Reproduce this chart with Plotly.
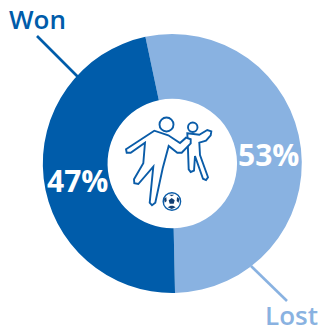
import plotly.graph_objects as go

labels = ["Lost", "Won"]
values = [53, 47]
colors = ["#89B2E1", "#005CAA"]
DARK = "#0A5CA8"
FONT = "Open Sans, sans-serif"

W, H = 321, 332
CX, CY, R = 172.3, 163.5, 129.5


def zp(points):
    """Icon outline: zoom-crop coordinates to an SVG path in chart pixels."""
    pts = [(100 + x / 3, 100 + y / 3) for x, y in points]
    return "M" + " L".join(f"{x:.1f},{y:.1f}" for x, y in pts) + " Z"


big_player = [(78, 148), (163, 92), (205, 106), (240, 129), (258, 113), (272, 118), (272, 130),
              (245, 158), (232, 158), (206, 138), (188, 205), (166, 308), (156, 316), (149, 308),
              (160, 200), (115, 252), (103, 250), (102, 238), (130, 190), (135, 128), (92, 158), (80, 158)]
small_player = [(262, 100), (298, 104), (322, 90), (334, 94), (332, 106), (318, 122), (298, 128),
                (300, 165), (324, 232), (318, 240), (309, 236), (285, 168), (282, 212), (272, 216),
                (266, 208), (264, 150)]
pentagon = [(215, 294), (224, 301), (221, 311), (209, 311), (206, 301)]
ball_patches = [
    [(207, 284), (223, 284), (215, 289)],
    [(192, 296), (199, 291), (200, 303), (194, 308)],
    [(238, 296), (231, 291), (230, 303), (236, 308)],
    [(203, 322), (212, 317), (219, 317), (227, 322), (215, 327)],
]

fig = go.Figure()
fig.add_trace(go.Pie(
    labels=labels, values=values, hole=0.5, sort=False, direction="clockwise",
    rotation=-12, marker=dict(colors=colors, line=dict(width=0)), textinfo="none",
    hoverinfo="skip", showlegend=False,
    domain=dict(x=[(CX - R) / W, (CX + R) / W], y=[1 - (CY + R) / H, 1 - (CY - R) / H]),
))

shapes = [
    dict(type="line", x0=37, y0=36, x1=78, y1=77, line=dict(color=colors[1], width=2.6)),
    dict(type="line", x0=251, y0=266, x1=287, y1=301, line=dict(color=colors[0], width=2.6)),
    dict(type="circle", x0=159.5, y0=117.5, x1=173.5, y1=131.5, line=dict(color=DARK, width=1.9), fillcolor="white"),
    dict(type="circle", x0=188, y0=122.5, x1=197.5, y1=132, line=dict(color=DARK, width=1.9), fillcolor="white"),
    dict(type="path", path=zp(small_player), line=dict(color=DARK, width=1.9), fillcolor="white"),
    dict(type="path", path=zp(big_player), line=dict(color=DARK, width=1.9), fillcolor="white"),
    dict(type="circle", x0=163.2, y0=192.8, x1=180.6, y1=210.2, line=dict(color=DARK, width=1.4), fillcolor="white"),
    dict(type="path", path=zp(pentagon), line=dict(width=0), fillcolor="#123F73"),
]
for patch in ball_patches:
    shapes.append(dict(type="path", path=zp(patch), line=dict(width=0), fillcolor="#123F73"))
for s in shapes:
    s.update(xref="x", yref="y", layer="above")

annotations = [
    dict(x=37, y=19, text="Won", font=dict(size=26, color=colors[1], family=FONT, weight=600)),
    dict(x=291, y=314.5, text="Lost", font=dict(size=26, color=colors[0], family=FONT, weight=600)),
    dict(x=77, y=180.5, text=f"{values[1]}%", font=dict(size=30, color="white", family=FONT, weight=700)),
    dict(x=268, y=154, text=f"{values[0]}%", font=dict(size=30, color="white", family=FONT, weight=700)),
]
for a in annotations:
    a.update(xref="x", yref="y", showarrow=False, xanchor="center", yanchor="middle")

fig.update_layout(
    width=W, height=H, margin=dict(l=0, r=0, t=0, b=0),
    paper_bgcolor="white", plot_bgcolor="rgba(0,0,0,0)",
    xaxis=dict(range=[0, W], visible=False, fixedrange=True),
    yaxis=dict(range=[H, 0], visible=False, fixedrange=True),
    shapes=shapes, annotations=annotations,
)
fig.write_html("out.html", config=dict(displayModeBar=False),
               post_script="document.body.style.margin='0';")
